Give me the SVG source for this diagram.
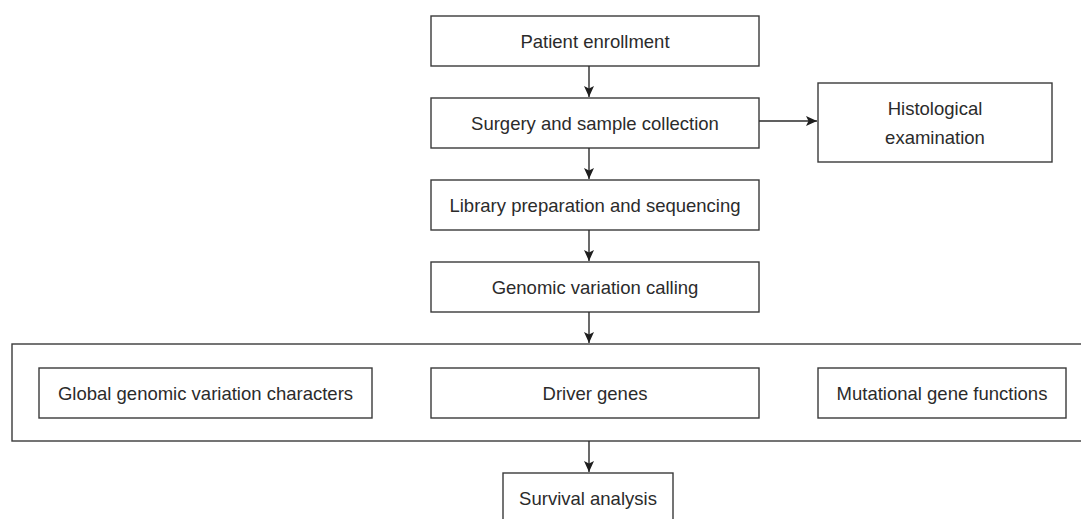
<svg xmlns="http://www.w3.org/2000/svg" width="1081" height="519" viewBox="0 0 1081 519">
<defs>
<style>
.box{fill:#fff;stroke:#3a3a3a;stroke-width:1.4}
.t{font-family:"Liberation Sans",Arial,sans-serif;font-size:18.5px;fill:#2b2b2b;text-anchor:middle}
.c{stroke:#2b2b2b;stroke-width:1.4;fill:none}
</style>
<marker id="ah" markerWidth="12" markerHeight="10" refX="11" refY="5" orient="auto" markerUnits="userSpaceOnUse">
<path d="M0,0 L11,5 L0,10 L2.5,5 z" fill="#1e1e1e"/>
</marker>
</defs>
<rect width="1081" height="519" fill="#fff"/>
<g id="container"><rect class="box" x="12" y="344" width="1080" height="97"/></g>
<g id="n1"><rect class="box" x="431" y="16" width="328" height="50"/><text class="t" x="595" y="47.5">Patient enrollment</text></g>
<g id="n2"><rect class="box" x="431" y="98" width="328" height="50"/><text class="t" x="595" y="129.5">Surgery and sample collection</text></g>
<g id="n3"><rect class="box" x="818" y="83" width="234" height="79"/><text class="t" x="935" y="115">Histological</text><text class="t" x="935" y="144">examination</text></g>
<g id="n4"><rect class="box" x="431" y="180" width="328" height="50"/><text class="t" x="595" y="211.5">Library preparation and sequencing</text></g>
<g id="n5"><rect class="box" x="431" y="262" width="328" height="50"/><text class="t" x="595" y="293.5">Genomic variation calling</text></g>
<g id="n6"><rect class="box" x="39" y="368" width="333" height="50"/><text class="t" x="205.5" y="399.5">Global genomic variation characters</text></g>
<g id="n7"><rect class="box" x="431" y="368" width="328" height="50"/><text class="t" x="595" y="399.5">Driver genes</text></g>
<g id="n8"><rect class="box" x="818" y="368" width="248" height="50"/><text class="t" x="942" y="399.5">Mutational gene functions</text></g>
<g id="n9"><rect class="box" x="503" y="473" width="170" height="60"/><text class="t" x="588" y="504.5">Survival analysis</text></g>
<g id="connectors">
<line class="c" x1="589" y1="66" x2="589" y2="97" marker-end="url(#ah)"/>
<line class="c" x1="589" y1="148" x2="589" y2="179" marker-end="url(#ah)"/>
<line class="c" x1="589" y1="230" x2="589" y2="261" marker-end="url(#ah)"/>
<line class="c" x1="589" y1="312" x2="589" y2="343" marker-end="url(#ah)"/>
<line class="c" x1="589" y1="441" x2="589" y2="472" marker-end="url(#ah)"/>
<line class="c" x1="759" y1="121" x2="817" y2="121" marker-end="url(#ah)"/>
</g>
</svg>
